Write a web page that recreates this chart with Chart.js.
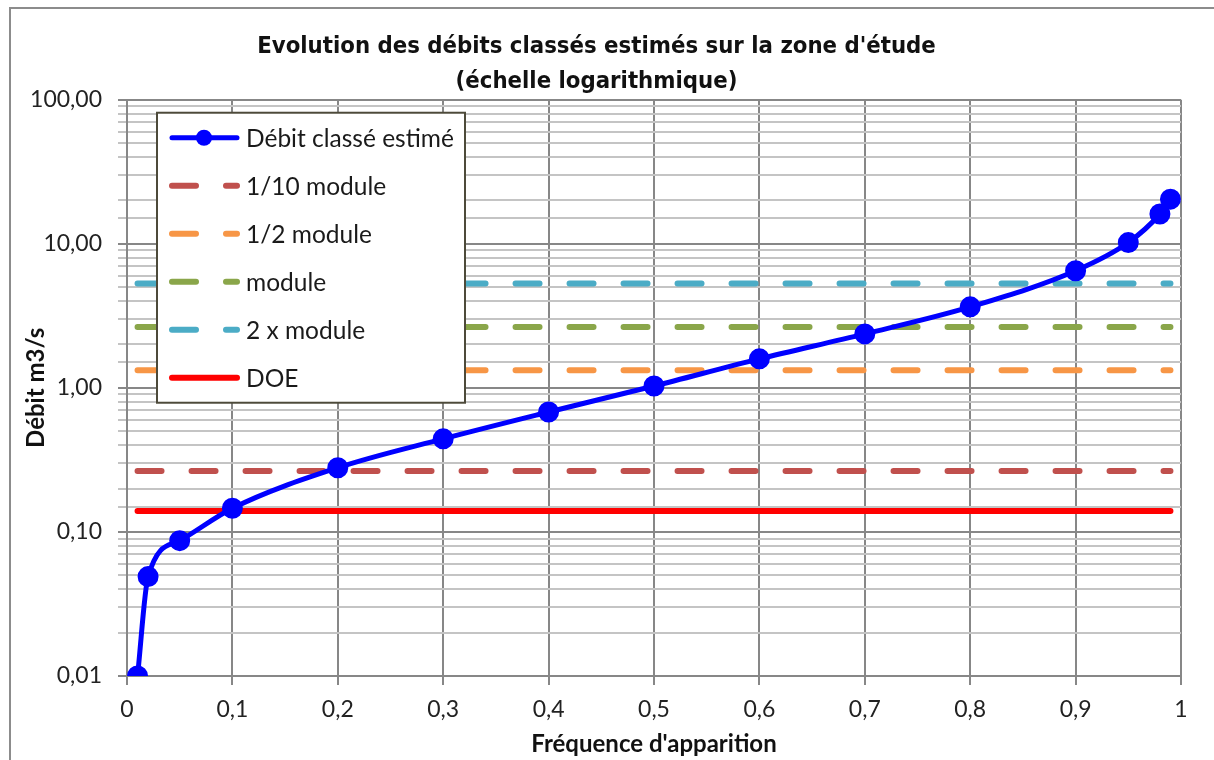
<!DOCTYPE html>
<html>
<head>
<meta charset="utf-8">
<script src="https://cdn.jsdelivr.net/npm/chart.js@4/dist/chart.umd.min.js"></script>
<style>
  html, body { margin: 0; padding: 0; background: #fff; }
  #wrap { position: relative; width: 1214px; height: 760px; }
  #frame { position: absolute; left: 9px; top: 7px; width: 1210px; height: 800px; border: 2px solid #8c8c8c; box-sizing: border-box; pointer-events: none; }
</style>
</head>
<body>
<div id="wrap">
  <canvas id="debits" width="1214" height="760"></canvas>
  <div id="frame"></div>
</div>
<script>
// frequences d'apparition et debits classes (m3/s)
const frequences = [0.01, 0.02, 0.05, 0.1, 0.2, 0.3, 0.4, 0.5, 0.6, 0.7, 0.8, 0.9, 0.95, 0.98, 0.99];
const debits = [0.01, 0.049, 0.087, 0.146, 0.279, 0.443, 0.68, 1.03, 1.59, 2.37, 3.65, 6.5, 10.2, 16.1, 20.4];

// seuils de reference (droites horizontales)
const seuilLabels = ["1/10 module", "1/2 module", "module", "2 x module", "DOE"];
const seuilValeurs = [0.265, 1.325, 2.65, 5.3, 0.14];
const seuilColors = ["#c0504d", "#f79646", "#8aa64a", "#4bacc6", "#ff0000"];
const seuilX = [0.01, 0.99];

const yTicksMajor = [0.01, 0.1, 1, 10, 100];

function fmt(v, d) {
    return v.toFixed(d).replace(".", ",");
}

function isMajor(v) {
    return yTicksMajor.some(m => Math.abs(v - m) < m * 1e-6);
}

let datasets = [{
    label: "Débit classé estimé",
    data: frequences.map((f, i) => ({x: f, y: debits[i]})),
    borderColor: "#0000ff",
    backgroundColor: "#0000ff",
    borderWidth: 5,
    pointRadius: 8,
    pointHoverRadius: 8,
    cubicInterpolationMode: "monotone",
    order: 0
}];
seuilLabels.forEach((lab, i) => {
    datasets.push({
        label: lab,
        data: seuilX.map(x => ({x: x, y: seuilValeurs[i]})),
        borderColor: seuilColors[i],
        backgroundColor: seuilColors[i],
        borderWidth: 6,
        borderCapStyle: "round",
        borderDash: lab === "DOE" ? [] : [24, 30],
        pointRadius: 0,
        order: 1
    });
});

// legende dessinee dans la zone du graphique
const legendeInterne = {
    id: "legendeInterne",
    afterDraw(chart) {
        const ctx = chart.ctx;
        const area = chart.chartArea;
        const x0 = area.left + 30, y0 = area.top + 13, w = 308, h = 290;
        ctx.save();
        ctx.fillStyle = "#ffffff";
        ctx.fillRect(x0, y0, w, h);
        ctx.strokeStyle = "#4d4a3a";
        ctx.lineWidth = 2;
        ctx.strokeRect(x0, y0, w, h);
        chart.data.datasets.forEach((ds, i) => {
            const cy = y0 + 25 + i * 48;
            ctx.beginPath();
            ctx.strokeStyle = ds.borderColor;
            ctx.lineWidth = ds.borderWidth;
            ctx.lineCap = "round";
            ctx.setLineDash(ds.borderDash || []);
            ctx.moveTo(x0 + 15, cy);
            ctx.lineTo(x0 + 80, cy);
            ctx.stroke();
            ctx.setLineDash([]);
            if (ds.pointRadius > 0) {
                ctx.beginPath();
                ctx.fillStyle = ds.backgroundColor;
                ctx.arc(x0 + 47, cy, 8, 0, Math.PI * 2);
                ctx.fill();
            }
            ctx.fillStyle = "#1a1a1a";
            ctx.font = "24.5px Lato";
            ctx.textBaseline = "middle";
            ctx.fillText(ds.label, x0 + 89, cy + 1);
        });
        ctx.restore();
    }
};

const ctx = document.getElementById("debits").getContext("2d");
new Chart(ctx, {
    type: "line",
    data: { datasets: datasets },
    plugins: [legendeInterne],
    options: {
        responsive: false,
        animation: false,
        layout: { padding: { left: 12, right: 33, top: 0, bottom: 0 } },
        plugins: {
            legend: { display: false },
            tooltip: { enabled: false },
            title: {
                display: true,
                text: ["Evolution des débits classés estimés sur la zone d'étude", "(échelle logarithmique)"],
                color: "#111",
                font: { family: "'DejaVu Sans Condensed', Lato, sans-serif", size: 23.7, weight: "bold", lineHeight: 1.45 },
                padding: { top: 30, bottom: 1 }
            }
        },
        scales: {
            x: {
                type: "linear",
                min: 0,
                max: 1,
                afterFit: s => { s.height = 84; },
                ticks: {
                    stepSize: 0.1,
                    color: "#222",
                    padding: 11,
                    font: { family: "Lato", size: 23 },
                    callback: v => v === 0 ? "0" : v === 1 ? "1" : fmt(v, 1)
                },
                grid: { color: "#878787", lineWidth: 2, tickLength: 9 },
                border: { color: "#878787", width: 2 },
                title: {
                    display: true,
                    text: "Fréquence d'apparition",
                    color: "#111",
                    font: { family: "Lato", size: 24, weight: "bold" },
                    padding: { top: 0, bottom: 1 }
                }
            },
            y: {
                type: "logarithmic",
                min: 0.01,
                max: 100,
                afterFit: s => { s.width = 115; },
                ticks: {
                    autoSkip: false,
                    color: "#222",
                    padding: 16,
                    font: { family: "Lato", size: 23 },
                    callback: v => isMajor(v) ? fmt(v, 2) : ""
                },
                grid: {
                    color: c => isMajor(c.tick.value) ? "#878787" : "#c4c4c4",
                    lineWidth: 2,
                    tickLength: 9
                },
                border: { color: "#878787", width: 2 },
                title: {
                    display: true,
                    text: "Débit m3/s",
                    color: "#111",
                    font: { family: "Lato", size: 24, weight: "bold" },
                    padding: { top: 10, bottom: 0 }
                }
            }
        }
    }
});
</script>
</body>
</html>
